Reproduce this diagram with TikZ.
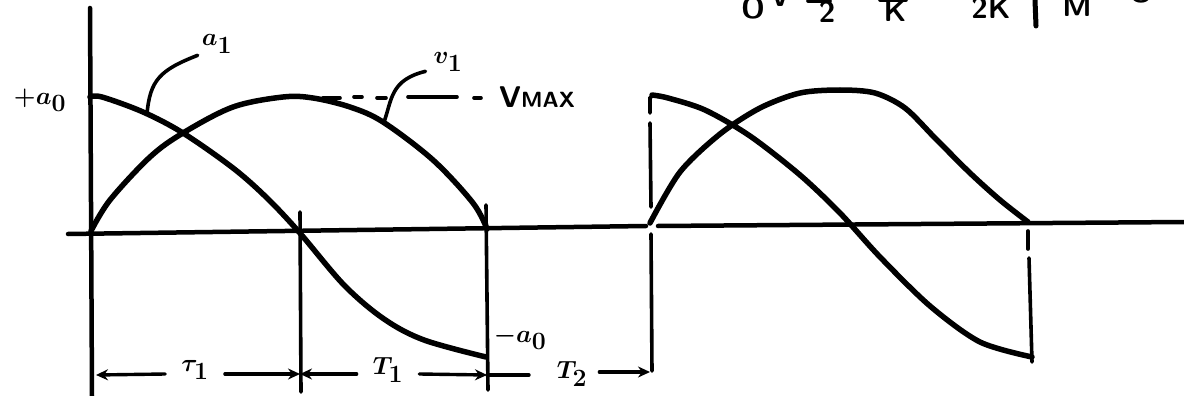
\documentclass[tikz,border=0pt]{standalone}
\usetikzlibrary{arrows.meta}
\begin{document}
\begin{tikzpicture}[x=1pt,y=-1pt,
  curve/.style={line width=5.5pt,line cap=round,line join=round},
  axisline/.style={line width=4.5pt,line cap=round},
  guide/.style={line width=3.6pt,line cap=round},
  dimline/.style={line width=3.4pt,line cap=round},
  tipr/.style={-{Stealth[length=12pt,width=11pt]}},
  lbl/.style={font=\boldmath\fontsize{50}{60}\selectfont, inner sep=0pt},
  caps/.style={font=\sffamily\bfseries\fontsize{30}{36}\selectfont, inner sep=0pt},
]
\useasboundingbox (0,0) rectangle (1184,396);
\clip (0,0) rectangle (1184,396);

% ---- axes
\coordinate (ytop) at (90,8);
\coordinate (ybot) at (92,396);
\coordinate (xl) at (68,234);
\coordinate (xg1) at (646,226);
\coordinate (xg2) at (658,226);
\coordinate (xr) at (1184,222);
\draw[axisline] (ytop) -- (ybot);
\draw[axisline] (xl) -- (xg1);
\draw[axisline] (xg2) -- (xr);

% ---- first cycle
\draw[curve] plot[smooth,tension=0.55] coordinates {(90,97) (102,97) (143,112) (183,133) (233,168) (267,198) (299,232) (344,285) (384,319) (424,340) (486,357)};
\draw[curve] plot[smooth,tension=0.55] coordinates {(91,231) (110,200) (150,157) (183,133) (233,107) (283,97) (313,98) (350,107) (383,122) (433,160) (473,203) (487,229)};

% vertical guides
\coordinate (g1t) at (300,212);
\coordinate (g1b) at (301,392);
\coordinate (g2t) at (486,205);
\coordinate (g2b) at (488,390);
\draw[guide] (g1t) -- (g1b);
\draw[guide] (g2t) -- (g2b);

% ---- second cycle
\draw[guide] (652,96) -- (650,98) -- (650,113);
\draw[guide] (650,123) -- (651,207);
\draw[guide] (651,234) -- (652,371);
\draw[guide] (1028,231) -- (1028,249);
\draw[guide] (1029,258) -- (1032,362);
\draw[curve] plot[smooth,tension=0.5] coordinates {(652,95) (668,98) (705,110) (750,136) (800,175) (840,213) (880,257) (930,306) (980,342) (1032,357)};
\draw[curve] plot[smooth,tension=0.5] coordinates {(650,223) (680,172) (720,134) (760,108) (800,93) (840,90) (875,93) (905,108) (935,138) (970,173) (1000,200) (1028,222)};

% ---- labels
\node[lbl] (pa0) at (40,100) {$+a_0$};
\node[lbl] (a1) at (217,44) {$a_1$};
\node[lbl] (v1) at (448,62) {$v_1$};
\node[lbl] (ma0) at (520,338) {\fontsize{34}{40}\selectfont$-a_0$};
\node[caps] (vmax) at (537,97) {V{\fontsize{22}{26}\selectfont MAX}};

% leaders
\coordinate (a1p) at (147,114);
\coordinate (v1p) at (384,122);
\draw[guide] (a1.south west) ++(-4,2) .. controls (160,70) and (150,80) .. (a1p);
\draw[guide] (v1.south west) ++(-8,0) .. controls (390,80) and (392,100) .. (v1p);

% V max dashes
\draw[guide] (323,98) -- (340,98);
\draw[guide] (354,97) -- (362,97);
\draw[guide] (377,98) -- (386,98);
\draw[guide] (408,97) -- (457,97);
\draw[guide] (474,98) -- (481,98);

% ---- dimension line
\coordinate (d0) at (96,375);
\coordinate (d1) at (300,374);
\coordinate (d2) at (487,375);
\coordinate (d3) at (650,372);
\node[lbl] (tau1) at (195,370) {$\tau_1$};
\node[lbl] (T1) at (388,370) {$T_1$};
\node[lbl] (T2) at (572,374) {$T_2$};
\draw[dimline,tipr] (tau1.west) ++(-16,4) -- (d0);
\draw[dimline,tipr] (tau1.east) ++(16,4) -- (d1);
\draw[dimline,tipr] (T1.west) ++(-16,4) -- (d1);
\draw[dimline,tipr] (T1.east) ++(16,4) -- (d2);
\draw[dimline] (d2) -- ++(42,0);
\draw[dimline,tipr] (T2.east) ++(12,-2) -- (d3);

% ---- cut-off text at the top
\node[caps,anchor=base] (t0) at (753,19) {O};
\node[caps,anchor=base] (tv) at (780,7) {v};
\node[caps,anchor=base] (t2) at (827,23) {2};
\node[caps,anchor=base] (tk) at (895,22) {K};
\node[caps,anchor=base] (t2k) at (991,19) {2K};
\node[caps,anchor=base] (tm) at (1077,17) {M};
\node[caps,anchor=base] (to) at (1141,3) {O};
\draw[guide] (808,1) -- (830,1);
\draw[guide] (880,0) -- (906,0);
\draw[line width=5pt,line cap=round] (1035,0) -- (1036,26);
\end{tikzpicture}
\end{document}
